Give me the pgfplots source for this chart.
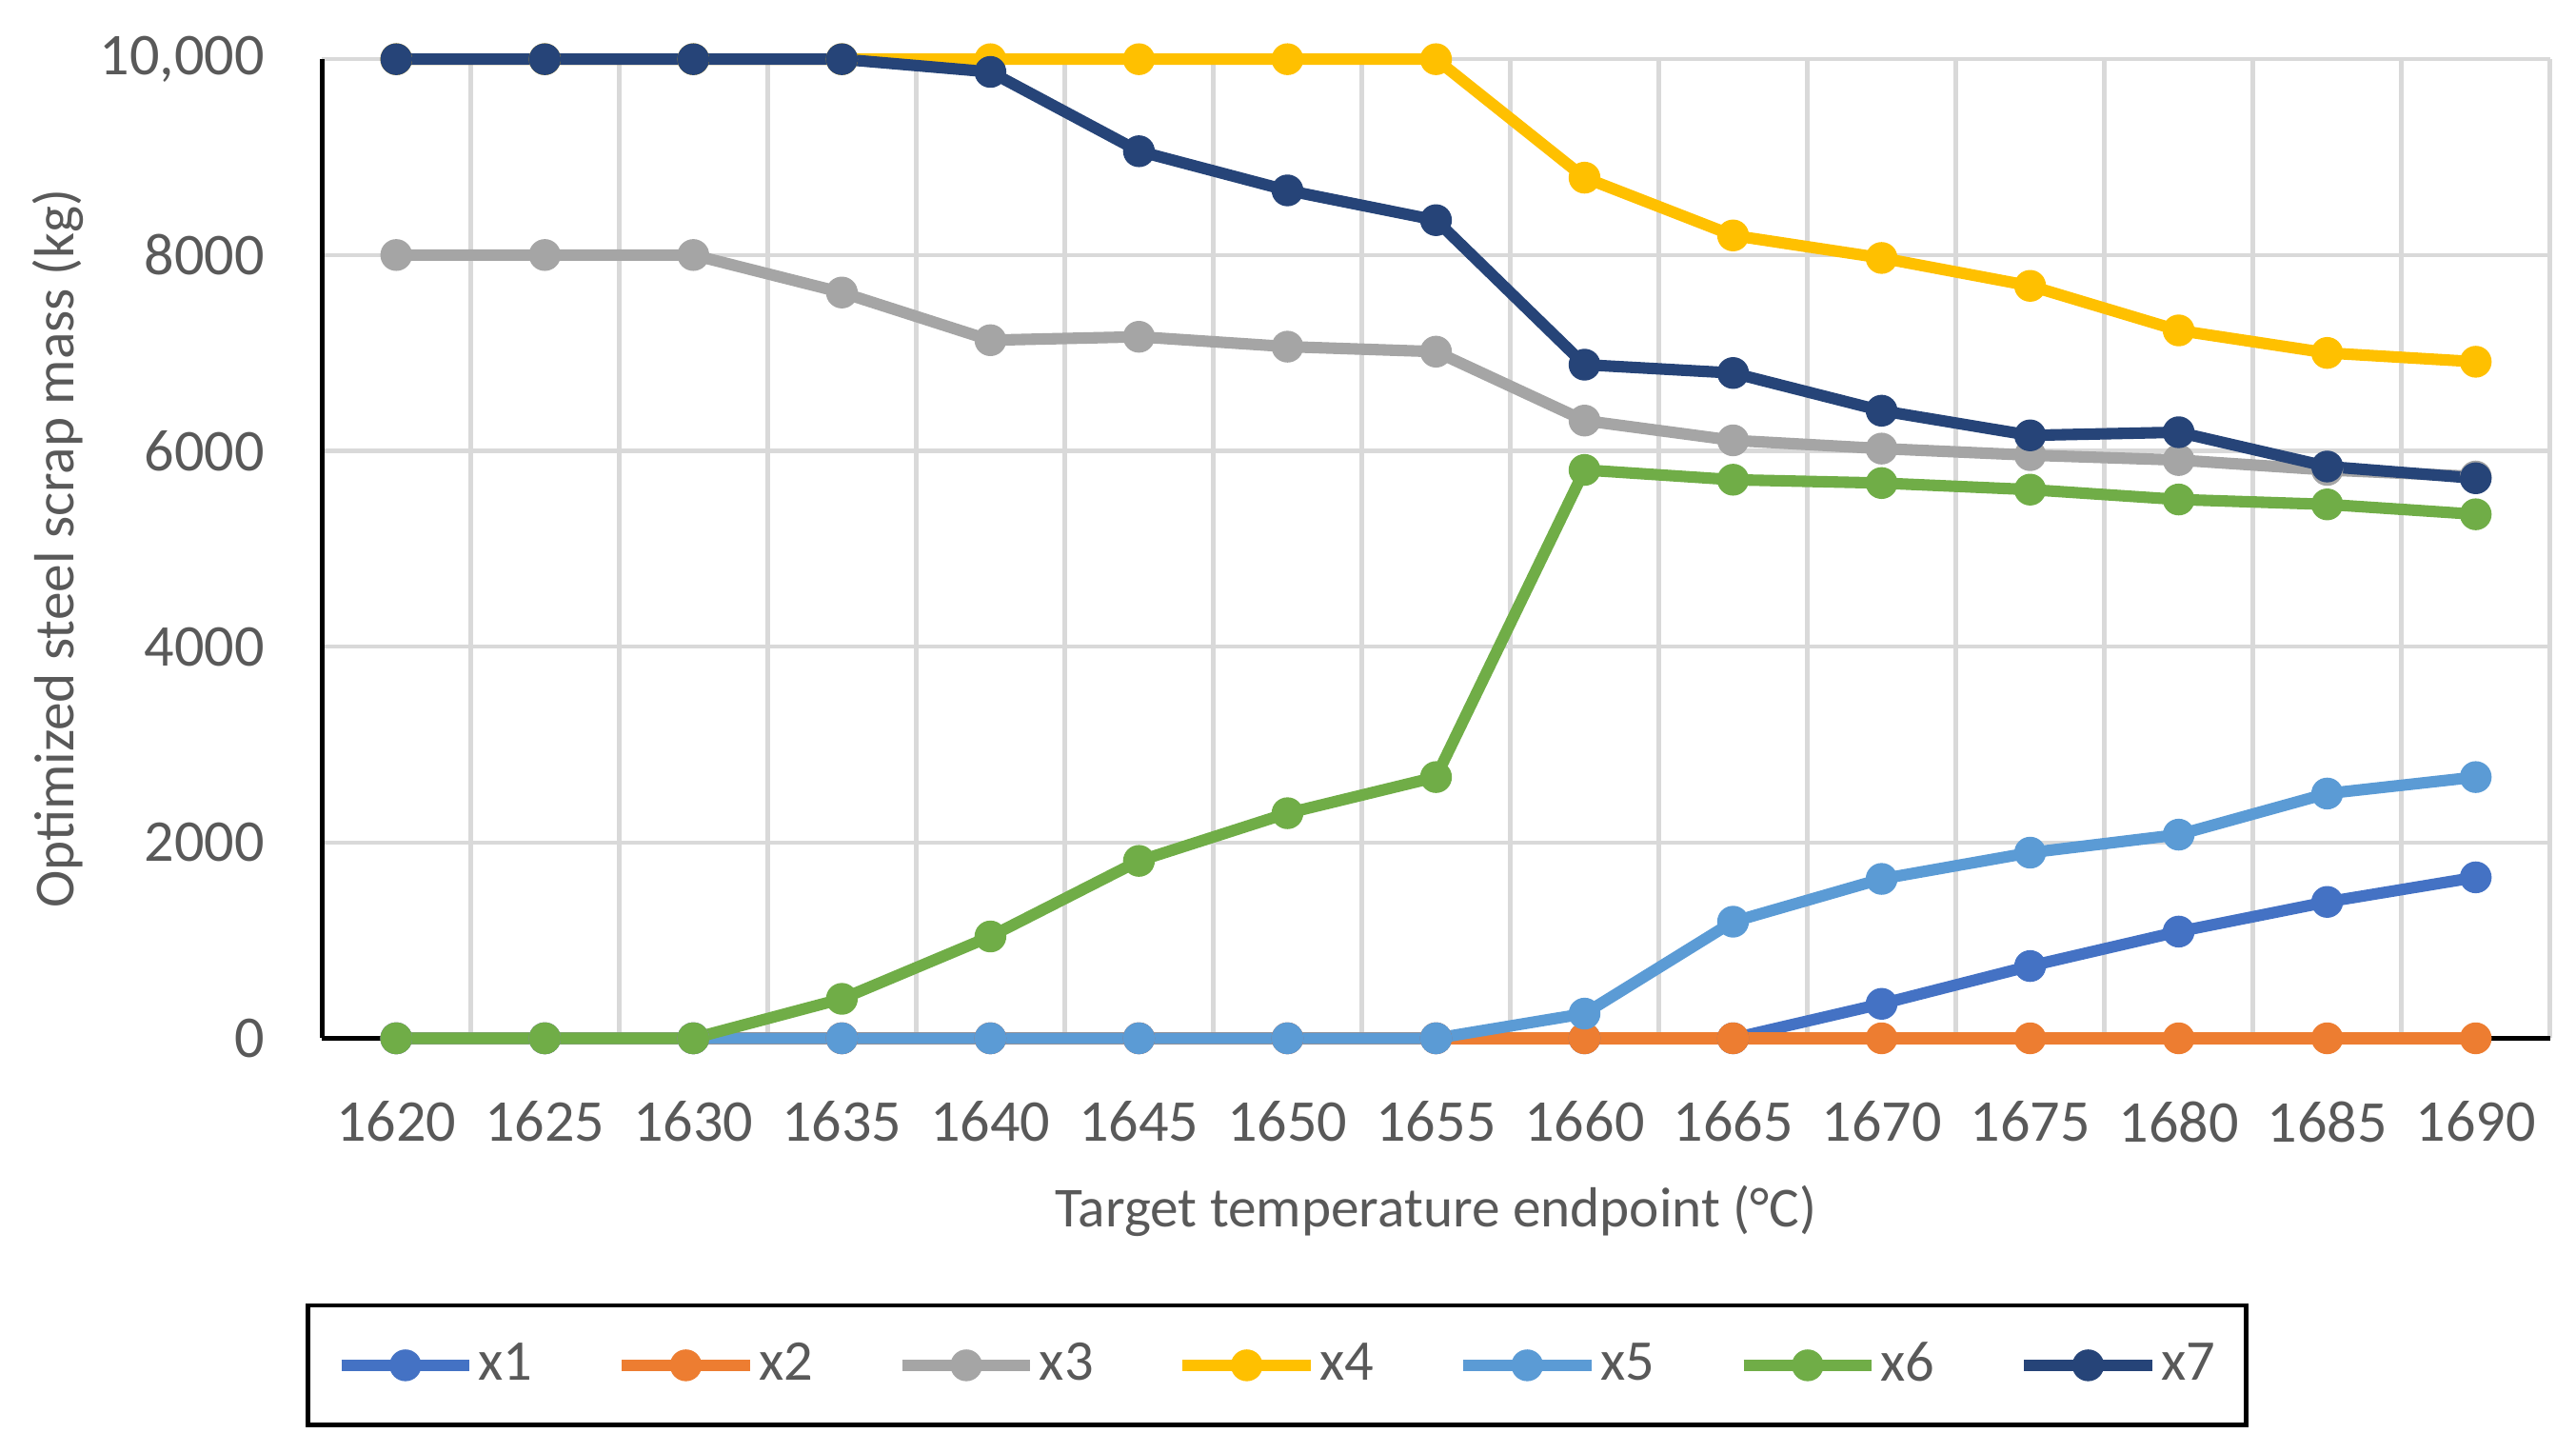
\documentclass[border=0pt]{standalone}
\usepackage{pgfplots}
\usepackage{pgfplotstable}
\pgfplotsset{compat=1.18}
\usepackage{fontspec}
\setmainfont{Carlito}
\definecolor{cxa}{HTML}{4472C4}
\definecolor{cxb}{HTML}{ED7D31}
\definecolor{cxc}{HTML}{A5A5A5}
\definecolor{cxd}{HTML}{FFC000}
\definecolor{cxe}{HTML}{5B9BD5}
\definecolor{cxf}{HTML}{70AD47}
\definecolor{cxg}{HTML}{264478}
\definecolor{tgrey}{HTML}{595959}
\definecolor{gridc}{HTML}{D9D9D9}
\pgfplotstableread{
i  T     xa    xb  xc    xd     xe    xf    xg
0  1620  0     0   8000  10000  0     0     10000
1  1625  0     0   8000  10000  0     0     10000
2  1630  0     0   8000  10000  0     0     10000
3  1635  0     0   7617  10000  0     403   10000
4  1640  0     0   7130  10000  0     1040  9870
5  1645  0     0   7165  10000  0     1812  9060
6  1650  0     0   7064  10000  0     2299  8660
7  1655  0     0   7013  10000  0     2668  8356
8  1660  0     0   6309  8790   252   5805  6880
9  1665  0     0   6107  8200   1191  5705  6795
10 1670  352   0   6023  7970   1628  5671  6410
11 1675  738   0   5956  7685   1896  5604  6158
12 1680  1090  0   5906  7230   2080  5503  6190
13 1685  1393  0   5805  7000   2500  5453  5840
14 1690  1644  0   5738  6910   2668  5352  5720
}\data
\pgfplotsset{
  myline/.style={color=#1, line width=2.1pt, mark=*, mark size=2.6pt,
    mark options={solid, fill=#1, line width=0.6pt}},
}
\begin{document}
\begin{tikzpicture}
\useasboundingbox (-58.75pt,-75.5pt) rectangle (411.25pt,189.4pt);
\begin{axis}[
  width=406.5pt, height=178.6pt, scale only axis,
  xmin=-0.5, xmax=14.5, ymin=0, ymax=10000,
  clip=false, scaled ticks=false,
  axis x line=bottom, axis y line=left,
  axis line style={black, line width=0.9pt, -},
  xtick={0,...,14},
  xticklabels={1620,1625,1630,1635,1640,1645,1650,1655,1660,1665,1670,1675,1680,1685,1690},
  minor xtick={0.5,1.5,...,14.5},
  xminorgrids=true, xmajorgrids=false,
  ytick={0,2000,4000,6000,8000,10000},
  yticklabels={0,2000,4000,6000,8000,{10,000}},
  ymajorgrids=true,
  major grid style={gridc, line width=0.8pt},
  minor grid style={gridc, line width=0.8pt},
  major tick length=0pt, minor tick length=0pt,
  tick label style={font=\fontsize{10.8}{12}\selectfont, text=tgrey},
  xticklabel style={yshift=-8pt},
  yticklabel style={xshift=-7pt},
  label style={font=\fontsize{10.3}{12}\selectfont, text=tgrey},
  xlabel={Target temperature endpoint (°C)},
  ylabel={Optimized steel scrap mass (kg)},
  xlabel style={at={(axis description cs:0.5,-0.176)}, anchor=center},
  ylabel style={at={(axis description cs:-0.1187,0.5)}, anchor=center},
  legend columns=7,
  legend image code/.code={\draw[mark repeat=2,mark phase=2,#1] plot coordinates {(0pt,0pt) (11.7pt,0pt) (23.4pt,0pt)};},
  legend style={at={(axis description cs:0.4287,-0.334)}, anchor=center,
    draw=black, line width=0.8pt, font=\fontsize{10.5}{12}\selectfont, text=tgrey,
    inner xsep=5pt, inner ysep=6pt,
    nodes={inner sep=0.6pt},
    /tikz/every even column/.append style={column sep=14.6pt}},
]
\addplot[myline=cxa] table[x=i, y=xa] {\data};
\addlegendentry{x1}
\addplot[myline=cxb] table[x=i, y=xb] {\data};
\addlegendentry{x2}
\addplot[myline=cxc] table[x=i, y=xc] {\data};
\addlegendentry{x3}
\addplot[myline=cxd] table[x=i, y=xd] {\data};
\addlegendentry{x4}
\addplot[myline=cxe] table[x=i, y=xe] {\data};
\addlegendentry{x5}
\addplot[myline=cxf] table[x=i, y=xf] {\data};
\addlegendentry{x6}
\addplot[myline=cxg] table[x=i, y=xg] {\data};
\addlegendentry{x7}
\end{axis}
\end{tikzpicture}
\end{document}
